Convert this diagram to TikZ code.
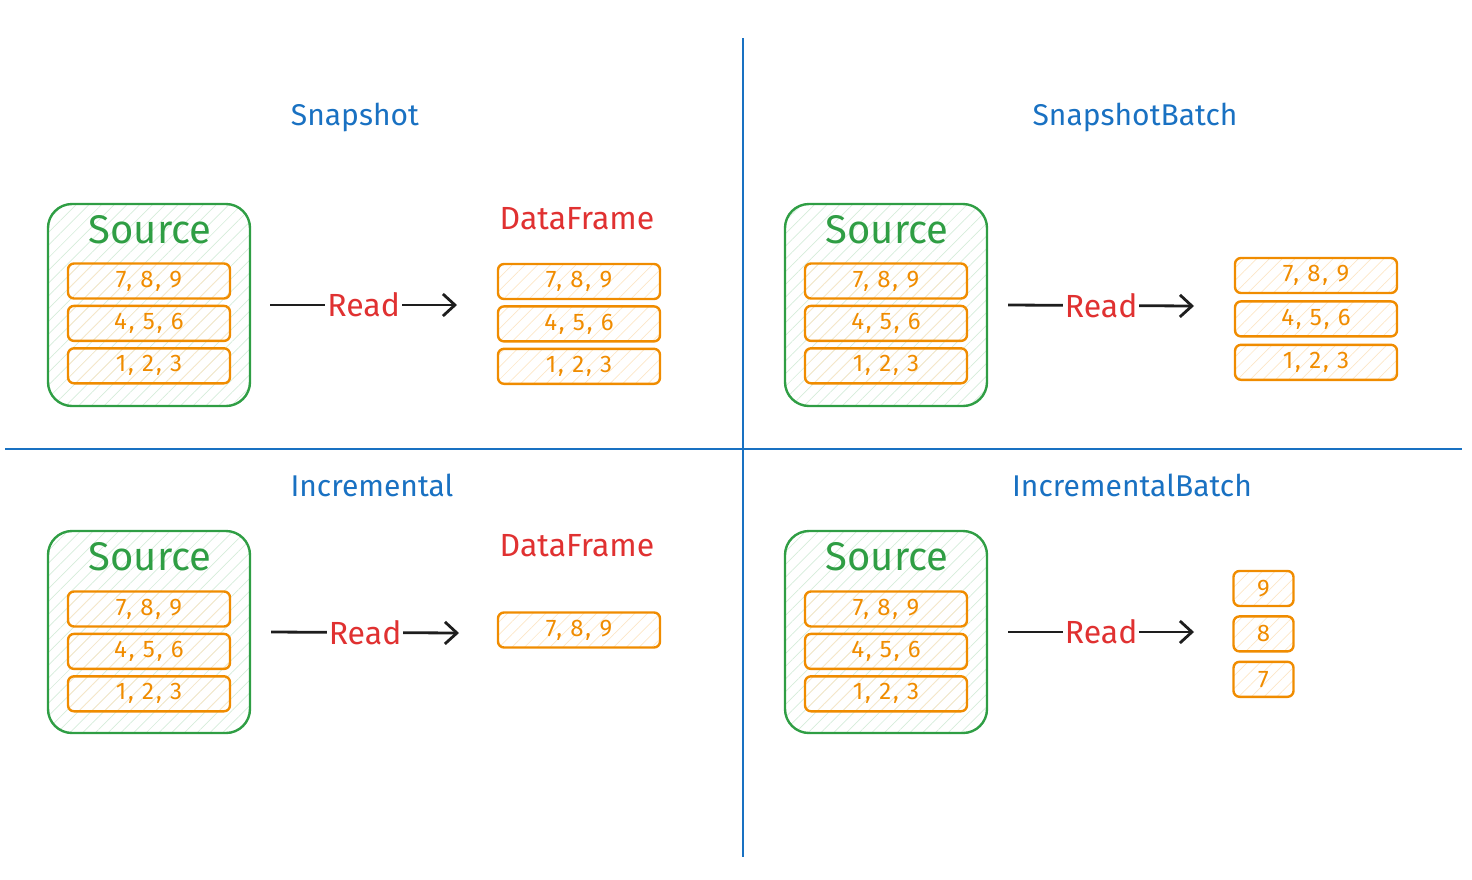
\documentclass[tikz,border=0pt]{standalone}
\usepackage{fontspec}
\setmainfont{Fira Sans}
\newfontfamily\rowfont[LetterSpace=8]{Fira Sans}
\definecolor{exblue}{HTML}{1971C2}
\definecolor{exgreen}{HTML}{2F9E44}
\definecolor{exorange}{HTML}{F08C00}
\definecolor{exred}{HTML}{E03131}
\definecolor{exink}{HTML}{1E1E1E}
\usetikzlibrary{arrows.meta, positioning, patterns.meta}

\begin{document}
\begin{tikzpicture}[x=0.5pt, y=-0.5pt, >={Straight Barb[length=6pt, width=11pt]},
    title/.style={text=exblue, font=\fontsize{15}{18}\selectfont},
    srcbox/.style={draw=exgreen, line width=1.2pt, rounded corners=12pt,
      minimum width=101pt, minimum height=101pt, inner sep=0pt,
      pattern={Lines[angle=45, distance=4.5pt, line width=0.35pt]}, pattern color=exgreen!20},
    srclabel/.style={text=exgreen, font=\fontsize{20}{24}\selectfont},
    row/.style={draw=exorange, line width=1.2pt, rounded corners=3pt,
      minimum width=81pt, minimum height=17.5pt, inner sep=0pt,
      text=exorange, font=\rowfont\fontsize{12}{14}\selectfont,
      pattern={Lines[angle=45, distance=4.5pt, line width=0.35pt]}, pattern color=exorange!22},
    cell/.style={row, minimum width=30pt},
    dflabel/.style={text=exred, font=\fontsize{16}{19}\selectfont},
    readarrow/.style={->, line width=1.4pt, exink},
    readlabel/.style={text=exred, fill=white, inner sep=1pt, font=\fontsize{16}{19}\selectfont},
    divider/.style={exblue, line width=1.3pt}]
  \useasboundingbox (0,0) rectangle (1472,879);

  % Quadrant dividers
  \draw[divider] (743,38) -- (743,857);
  \draw[divider] (5,449) -- (1462,449);

  % Titles
  \node[title] (snapTitle) at (355,117) {Snapshot};
  \node[title] (snapBatchTitle) at (1135,117) {SnapshotBatch};
  \node[title] (incTitle) at (372,485) {Incremental};
  \node[title] (incBatchTitle) at (1132,485) {IncrementalBatch};

  % Snapshot: source
  \node[srcbox] (srcA) at (149,305) {};
  \node[srclabel] (srcAlabel) at (150,230) {Source};
  \node[row] (srcArow1) at (149,281) {7, 8, 9};
  \node[row, below=2.5pt of srcArow1] (srcArow2) {4, 5, 6};
  \node[row, below=2.5pt of srcArow2] (srcArow3) {1, 2, 3};
  % Snapshot: dataframe
  \node[dflabel] (dfAlabel) at (577,219) {DataFrame};
  \node[row] (dfArow1) at (579,281.5) {7, 8, 9};
  \node[row, below=2.5pt of dfArow1] (dfArow2) {4, 5, 6};
  \node[row, below=2.5pt of dfArow2] (dfArow3) {1, 2, 3};
  % Snapshot: read
  \coordinate (readAend) at (457,305);
  \draw[readarrow] ([xshift=10pt]srcA.east) -- (readAend) node[readlabel, midway] {Read};

  % SnapshotBatch: source
  \node[srcbox] (srcB) at (886,305) {};
  \node[srclabel] (srcBlabel) at (887,230) {Source};
  \node[row] (srcBrow1) at (886,281) {7, 8, 9};
  \node[row, below=2.5pt of srcBrow1] (srcBrow2) {4, 5, 6};
  \node[row, below=2.5pt of srcBrow2] (srcBrow3) {1, 2, 3};
  % SnapshotBatch: batches
  \node[row] (batBrow1) at (1316,275.5) {7, 8, 9};
  \node[row, below=3pt of batBrow1] (batBrow2) {4, 5, 6};
  \node[row, below=3pt of batBrow2] (batBrow3) {1, 2, 3};
  % SnapshotBatch: read
  \coordinate (readBend) at (1194,306);
  \draw[readarrow] ([xshift=10pt]srcB.east) -- (readBend) node[readlabel, midway] {Read};

  % Incremental: source
  \node[srcbox] (srcC) at (149,632) {};
  \node[srclabel] (srcClabel) at (150,557) {Source};
  \node[row] (srcCrow1) at (149,609) {7, 8, 9};
  \node[row, below=2.5pt of srcCrow1] (srcCrow2) {4, 5, 6};
  \node[row, below=2.5pt of srcCrow2] (srcCrow3) {1, 2, 3};
  % Incremental: dataframe
  \node[dflabel] (dfClabel) at (577,546) {DataFrame};
  \node[row] (dfCrow1) at (579,630) {7, 8, 9};
  % Incremental: read
  \coordinate (readCend) at (459,633);
  \draw[readarrow] ([xshift=10pt]srcC.east) -- (readCend) node[readlabel, midway] {Read};

  % IncrementalBatch: source
  \node[srcbox] (srcD) at (886,632) {};
  \node[srclabel] (srcDlabel) at (887,557) {Source};
  \node[row] (srcDrow1) at (886,609) {7, 8, 9};
  \node[row, below=2.5pt of srcDrow1] (srcDrow2) {4, 5, 6};
  \node[row, below=2.5pt of srcDrow2] (srcDrow3) {1, 2, 3};
  % IncrementalBatch: single rows
  \node[cell] (batDcell1) at (1263.5,588.5) {9};
  \node[cell, below=4pt of batDcell1] (batDcell2) {8};
  \node[cell, below=4pt of batDcell2] (batDcell3) {7};
  % IncrementalBatch: read
  \coordinate (readDend) at (1194,632);
  \draw[readarrow] ([xshift=10pt]srcD.east) -- (readDend) node[readlabel, midway] {Read};
\end{tikzpicture}
\end{document}
